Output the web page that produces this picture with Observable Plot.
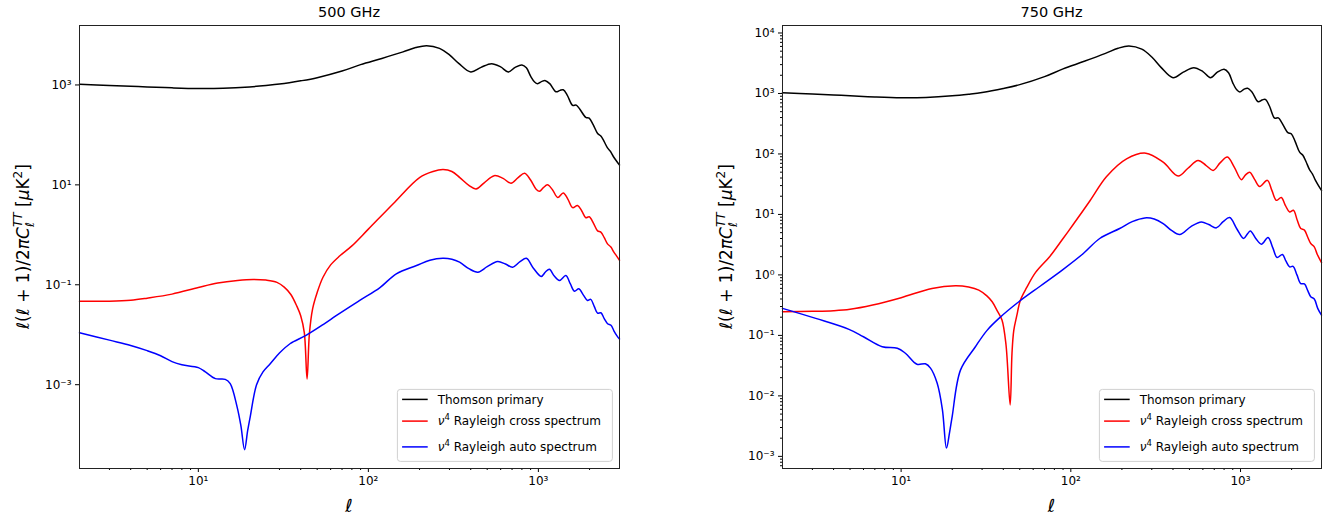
<!DOCTYPE html>
<html><head><meta charset="utf-8">
<script src="https://cdn.jsdelivr.net/npm/d3@7"></script>
<script src="https://cdn.jsdelivr.net/npm/@observablehq/plot@0.6"></script>
<style>
body{margin:0;background:#fff;}
#wrap{display:flex;width:1338px;height:517px;}
svg{font-family:"DejaVu Sans",sans-serif;overflow:visible;}
</style></head><body><div id="wrap"></div>
<script>
// ---- data ----
const seriesNames = ["Thomson primary", "Rayleigh cross spectrum", "Rayleigh auto spectrum"];
const panelTitles = ["500 GHz", "750 GHz"];

// Thomson primary (same in both panels)
const ell_primary = [2,3,4,5,7,10,14,20,25,30,40,50,70,90,120,160,190,220,262,300,340,400,460,530,600,665,730,800,850,900,950,990,1050,1100,1170,1270,1340,1400,1480,1590,1670,1750,1900,1990,2100,2230,2330,2430,2550,2650,2760,2880,3000];
const primary = [1030,980,945,915,875,850,860,915,975,1040,1210,1400,1900,2550,3400,4600,5600,6100,5400,4000,2700,1820,2250,2670,2300,1820,2250,2520,2200,1500,1150,1060,1180,1220,1050,730,780,800,620,390,395,330,225,216,160,107,95,75,55,47,37,30,25];

// 500 GHz
const ell_cross500 = [2,3,4,5,7,10,13,17,21,25,29,32,35,38,40,42,43.6,45,47,50,54,60,68,80,100,140,200,240,275,310,345,390,430,480,550,620,690,760,830,900,970,1016,1070,1130,1210,1300,1400,1490,1590,1700,1800,1900,1990,2110,2230,2330,2440,2550,2670,2780,2880,3000];
const cross500 = [0.047,0.047,0.049,0.054,0.065,0.088,0.108,0.122,0.128,0.124,0.112,0.09,0.064,0.037,0.024,0.011,0.0013,0.0105,0.033,0.07,0.14,0.25,0.38,0.6,1.3,4.2,14,18.5,20.2,18.5,14,9.8,8.3,11,15.3,13.5,10.8,14,17.1,12.5,8.2,7.45,8.8,10,8,5.6,6.9,5.2,3.5,3.85,3.0,2.2,2.3,1.7,1.2,1.13,0.88,0.66,0.57,0.45,0.38,0.31];
const ell_auto500 = [2,3,4,5,6,7,8,10,11,12.6,14.4,15.4,16.9,17.8,18.7,19.5,20.2,22,24,26.4,30,34.6,43,55,65,89,117,146,192,230,274,310,344,390,441,500,576,640,706,780,850,930,1039,1100,1160,1240,1330,1450,1540,1630,1730,1840,1945,2030,2130,2228,2332,2440,2553,2673,2780,2900,3000];
const auto500 = [0.011,0.0078,0.0061,0.0048,0.0038,0.0029,0.0025,0.0022,0.0018,0.00132,0.00128,0.00105,0.00036,0.00015,0.00005,0.00012,0.00023,0.001,0.0018,0.0026,0.0043,0.0066,0.0097,0.0165,0.0243,0.0485,0.088,0.166,0.243,0.31,0.34,0.325,0.283,0.21,0.179,0.23,0.292,0.26,0.225,0.29,0.34,0.22,0.147,0.18,0.205,0.15,0.122,0.153,0.105,0.0745,0.083,0.062,0.0485,0.051,0.037,0.027,0.0275,0.021,0.0166,0.0155,0.012,0.0095,0.0082];

// 750 GHz
const ell_cross750 = [2,3,4,5,6.8,10,15.2,20.9,25,28.7,32,34.4,37,39.3,41.5,43.9,45,46.1,48,50.5,55,62,75,90,104,130,162,213,277,350,429,490,562,625,689,760,837,920,1012,1070,1133,1210,1297,1439,1530,1625,1738,1840,1946,2050,2160,2264,2380,2490,2594,2720,2830,3000];
const cross750 = [0.246,0.25,0.256,0.27,0.318,0.42,0.598,0.66,0.63,0.561,0.45,0.36,0.25,0.18,0.07,0.0071,0.05,0.12,0.21,0.384,0.62,1.1,2.0,4.0,7.0,17,42,83,103,73,43,58,78,65,53.5,72,88.7,60,37.6,45,50,38,29,36.6,25,17.1,19,14,11,11.7,8,5.85,5.5,4.2,3.3,2.9,2.2,1.6];
const ell_auto750 = [2,3.14,4.93,6,7.74,9.5,10.6,12.4,13.9,14.9,16.3,17.5,18.5,19.3,20,22.4,27.4,32,37.7,49.4,65.9,89,118.5,148,194,230,273,310,350,390,438,510,588,650,721,790,863,950,1043,1100,1143,1230,1327,1452,1550,1641,1766,1850,1946,2040,2150,2264,2380,2490,2594,2720,2850,3000];
const auto750 = [0.28,0.191,0.126,0.095,0.065,0.0614,0.0507,0.0334,0.0339,0.0288,0.0163,0.006,0.00137,0.0025,0.0046,0.0269,0.065,0.12,0.191,0.36,0.65,1.2,2.26,4.0,5.85,7.6,8.75,8.4,7.07,5.5,4.66,6.3,7.5,6.8,6.0,7.6,8.87,5.8,4.0,4.8,5.33,4.0,3.22,4.15,2.8,1.94,2.18,1.7,1.36,1.38,1.0,0.72,0.71,0.55,0.435,0.4,0.28,0.217];

// axes
const xDomain = [2, 3000];
const xTicks = [10, 100, 1000];
const yDomain500 = [2.1e-5, 1.55e4];
const yDomain750 = [6.3e-4, 1.33e4];
const yTicks500 = [1e-3, 1e-1, 1e1, 1e3];
const yTicks750 = [1e-3, 1e-2, 1e-1, 1e0, 1e1, 1e2, 1e3, 1e4];
const colors = ["#000000", "#ff0000", "#0000ff"];

// ---- helpers ----
const supMap = {"-":"⁻","0":"⁰","1":"¹","2":"²","3":"³","4":"⁴","5":"⁵","6":"⁶","7":"⁷","8":"⁸","9":"⁹"};
const fmt = d => "10" + String(Math.round(Math.log10(d))).split("").map(c => supMap[c]).join("");
function minorTicks(domain) {
  const out = [];
  const lo = Math.floor(Math.log10(domain[0])), hi = Math.ceil(Math.log10(domain[1]));
  for (let e = lo; e <= hi; e++) for (let m = 2; m <= 9; m++) {
    const v = m * Math.pow(10, e);
    if (v > domain[0] * 1.001 && v < domain[1] * 0.999) out.push(v);
  }
  return out;
}
const toRows = (ells, vals) => ells.map((l, i) => ({ell: l, v: vals[i]}));

function panel(cfg) {
  const W = 669, H = 517, mt = 25, mb = 49;
  const lines = cfg.series.map((s, i) =>
    Plot.line(toRows(s[0], s[1]), {x: "ell", y: "v", stroke: colors[i], strokeWidth: 1.5, curve: "catmull-rom"}));
  const svg = Plot.plot({
    width: W, height: H,
    marginLeft: cfg.ml, marginRight: cfg.mr, marginTop: mt, marginBottom: mb,
    style: {fontFamily: "DejaVu Sans, sans-serif", fontSize: "12px", background: "white", color: "#000"},
    x: {type: "log", domain: xDomain},
    y: {type: "log", domain: cfg.yDomain},
    marks: [
      ...lines,
      Plot.axisX({ticks: xTicks, tickFormat: fmt, tickSize: 4, tickPadding: 4, label: null, fontSize: 12}),
      Plot.axisX({ticks: minorTicks(xDomain), tickFormat: () => "", tickSize: 2, label: null}),
      Plot.axisY({ticks: cfg.yTicks, tickFormat: fmt, tickSize: 4, tickPadding: 4, label: null, fontSize: 12}),
      cfg.yMinor ? Plot.axisY({ticks: minorTicks(cfg.yDomain), tickFormat: () => "", tickSize: 2, label: null}) : null,
      Plot.frame({stroke: "#222", strokeWidth: 1})
    ]
  });
  const s = d3.select(svg);
  const left = cfg.ml, right = W - cfg.mr, top = mt, bottom = H - mb;
  // title
  s.append("text").attr("x", (left + right) / 2).attr("y", 17).attr("text-anchor", "middle")
    .style("font-size", "14.5px").attr("fill", "#000").text(cfg.title);
  // x label
  s.append("text").attr("x", (left + right) / 2).attr("y", 512).attr("text-anchor", "middle")
    .style("font-size", "18px").style("font-style", "italic").attr("fill", "#000").text("ℓ");
  // y label
  const yl = s.append("text").attr("transform", `translate(${left - 50},${(top + bottom) / 2}) rotate(-90)`)
    .attr("text-anchor", "middle").style("font-size", "17px").attr("fill", "#000");
  yl.append("tspan").style("font-style", "italic").text("ℓ");
  yl.append("tspan").text("(");
  yl.append("tspan").style("font-style", "italic").text("ℓ");
  yl.append("tspan").text(" + 1)/2");
  yl.append("tspan").style("font-style", "italic").text("πC");
  yl.append("tspan").style("font-style", "italic").style("font-size", "12px").attr("dy", 5).text("ℓ");
  yl.append("tspan").style("font-style", "italic").style("font-size", "12px").attr("dx", -5).attr("dy", -12).text("TT");
  yl.append("tspan").attr("dy", 7).text(" [");
  yl.append("tspan").style("font-style", "italic").text("μ");
  yl.append("tspan").text("K");
  yl.append("tspan").style("font-size", "12px").attr("dy", -7).text("2");
  yl.append("tspan").attr("dy", 7).text("]");
  // legend
  const bw = 215, bh = 72;
  const bx = right - 6.6 - bw, by = bottom - 6.6 - bh;
  const g = s.append("g").attr("text-anchor", "start");
  g.append("rect").attr("x", bx).attr("y", by).attr("width", bw).attr("height", bh).attr("rx", 3)
    .attr("fill", "white").attr("fill-opacity", 0.8).attr("stroke", "#d0d0d0");
  const rowsY = [10, 31.7, 57.5];
  seriesNames.forEach((name, i) => {
    const yy = by + rowsY[i];
    g.append("line").attr("x1", bx + 4.7).attr("x2", bx + 30.3).attr("y1", yy).attr("y2", yy)
      .attr("stroke", colors[i]).attr("stroke-width", 1.5);
    const t = g.append("text").attr("x", bx + 40.3).attr("y", yy + 4.3).attr("text-anchor", "start")
      .style("font-size", "12px").attr("fill", "#000");
    if (i === 0) t.text(name);
    else {
      t.append("tspan").style("font-style", "italic").text("ν");
      t.append("tspan").style("font-size", "8.5px").attr("dy", -5).text("4");
      t.append("tspan").attr("dy", 5).text(" " + name);
    }
  });
  return svg;
}

const wrap = document.getElementById("wrap");
wrap.appendChild(panel({title: panelTitles[0], ml: 79, mr: 50, yDomain: yDomain500, yTicks: yTicks500, yMinor: false,
  series: [[ell_primary, primary], [ell_cross500, cross500], [ell_auto500, auto500]]}));
wrap.appendChild(panel({title: panelTitles[1], ml: 113, mr: 17, yDomain: yDomain750, yTicks: yTicks750, yMinor: true,
  series: [[ell_primary, primary], [ell_cross750, cross750], [ell_auto750, auto750]]}));
</script>
</body></html>
